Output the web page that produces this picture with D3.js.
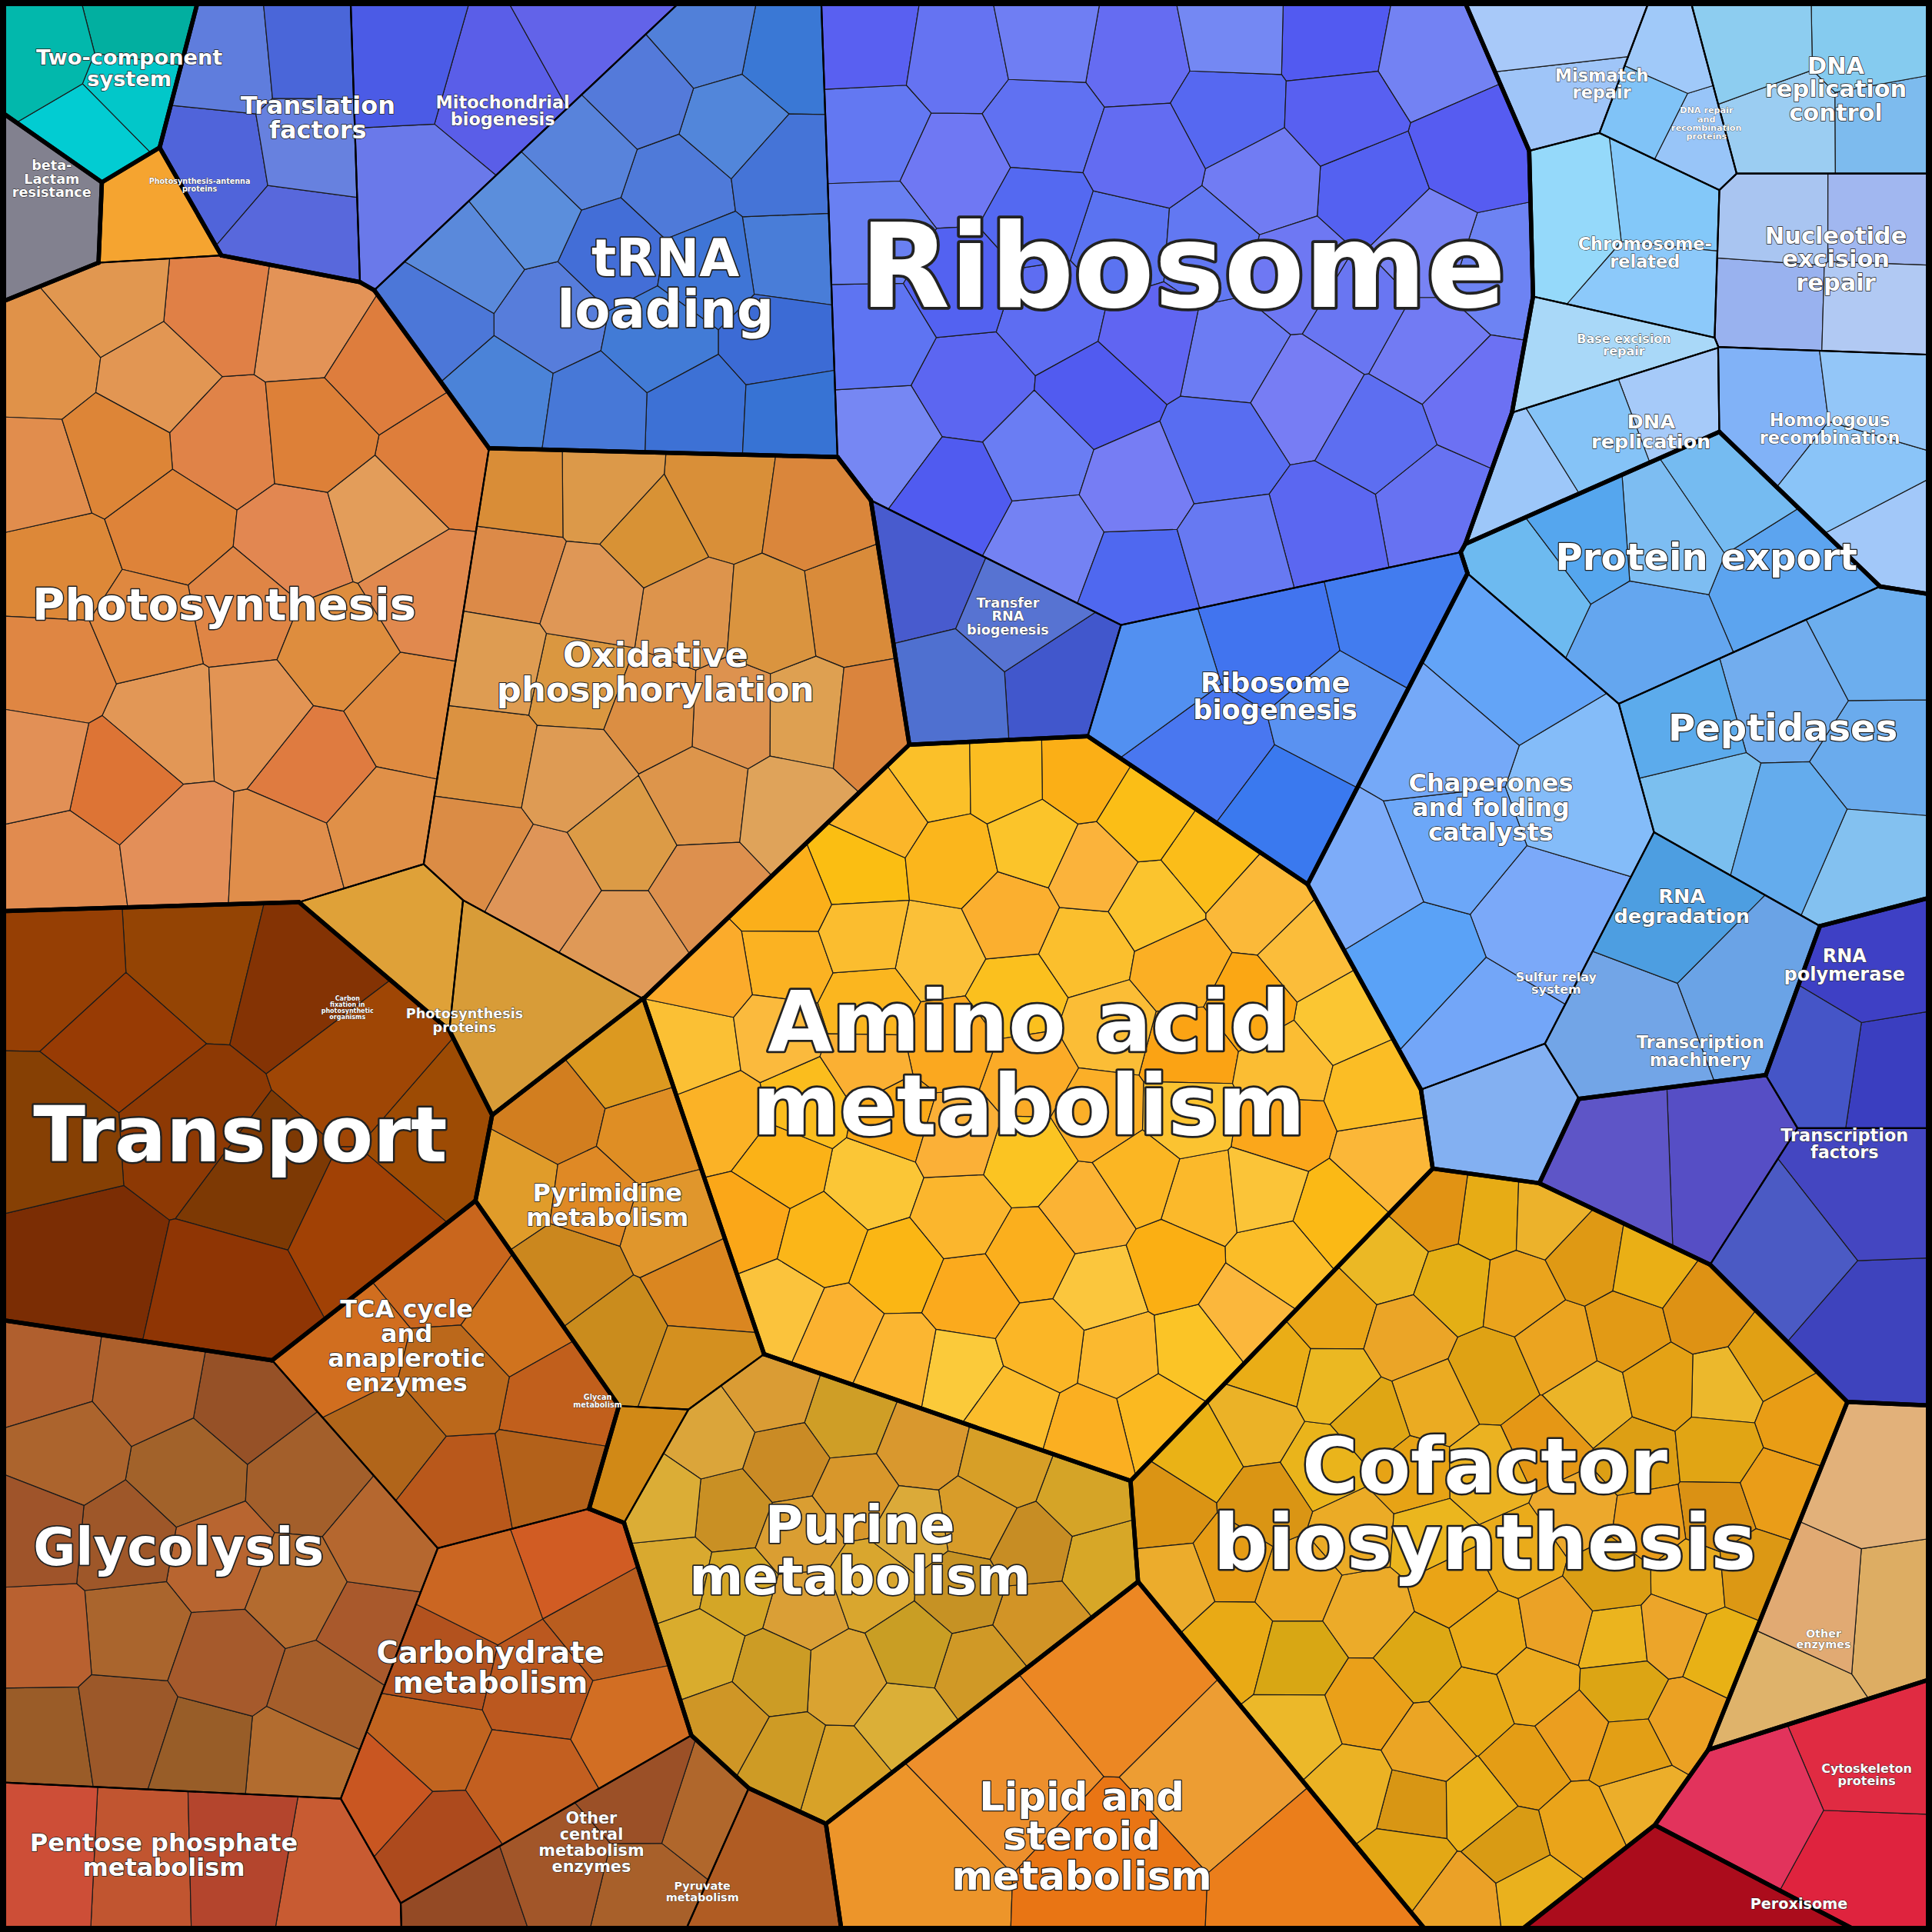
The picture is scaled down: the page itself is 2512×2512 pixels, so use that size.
<!DOCTYPE html>
<html><head><meta charset="utf-8">
<script src="https://cdn.jsdelivr.net/npm/d3@7"></script>
<style>body{margin:0;background:#fff}</style></head>
<body><svg id="c" width="2512" height="2512"></svg>
<script>
// ---------- DATA ----------
const categories = ["Two-component\nsystem","beta-\nLactam\nresistance","Photosynthesis-antenna\nproteins","Translation\nfactors","Mitochondrial\nbiogenesis","tRNA\nloading","Ribosome","Transfer\nRNA\nbiogenesis","Ribosome\nbiogenesis",
"Mismatch\nrepair","DNA repair\nand\nrecombination\nproteins","DNA\nreplication\ncontrol","Chromosome-\nrelated","Nucleotide\nexcision\nrepair","Base excision\nrepair","DNA\nreplication","Homologous\nrecombination",
"Protein export","Peptidases","Chaperones\nand folding\ncatalysts","RNA\ndegradation","Sulfur relay\nsystem",
"RNA\npolymerase","Transcription\nmachinery","Transcription\nfactors",
"Amino acid\nmetabolism","Pyrimidine\nmetabolism","Glycan\nmetabolism","Purine\nmetabolism","Cofactor\nbiosynthesis","Lipid and\nsteroid\nmetabolism",
"Photosynthesis","Oxidative\nphosphorylation","Carbon\nfixation in\nphotosynthetic\norganisms","Photosynthesis\nproteins",
"Transport","TCA cycle\nand\nanaplerotic\nenzymes","Glycolysis","Carbohydrate\nmetabolism","Pentose phosphate\nmetabolism","Other\ncentral\nmetabolism\nenzymes","Pyruvate\nmetabolism",
"Other\nenzymes","Cytoskeleton\nproteins","Peroxisome"];
const groups = ["TC","BL","EN","GI","GI","GI","GI","GI","GI",
"DNA","DNA","DNA","DNA","DNA","DNA","DNA","DNA",
"PF","PF","PF","PF","PF","TR","TR","TR",
"AA","NU","NU","NU","CO","LI",
"EN","EN","EN","EN","TP","CC","CC","CC","CC","CC","CC","OE","CY","PX"];
const sizes = [18,9,6,30,33,100,255,25,45, 12,10,25,20,25,8,15,25, 40,50,70,30,10, 20,20,30, 260,45,4,100,230,80, 185,130,9,14, 120,45,110,55,35,25,10, 30,30,12];
const subcellCounts = [4,1,1,5,4,20,45,4,6, 2,3,4,3,4,1,3,4, 6,7,8,3,1, 3,2,3, 70,10,1,30,75,6, 30,25,1,1, 12,8,20,10,4,5,1, 4,3,1];
const colors = ["#02c4c0","#7a7a88","#f6a844","#5a70dc","#5c64e8","#4a7ad8","#6472f2","#5068d0","#4a80f0",
"#a0c8f8","#90c4f8","#8cc8f0","#94d2fa","#a0baf0","#a8daf8","#94c4f8","#90c0f8",
"#6ab0f0","#70b2ee","#70a8f8","#60a0e4","#70a8f0","#4850c8","#5c58c8","#4048c0",
"#fbb828","#dc9020","#e49018","#d8a028","#eaa818","#ec8c24",
"#e08a48","#dc9448","#e0a040","#d89838","#8c3c04","#c0661c","#a8602c","#c05c20","#c05030","#a05828","#a05020",
"#e0b070","#e02848","#a80c20"];
// ---------- LAYOUT (seed point / label pos in 1568 space, font size) ----------
const layout = [[105,55,17],[42,145,11],[162,150,6],[258,95,20],[408,90,14],[540,230,42],[960,215,95],[818,500,11],[1035,565,22],
[1300,68,14],[1385,100,7],[1490,72,19],[1335,205,14],[1490,210,19],[1318,280,10],[1340,350,16],[1485,348,14],
[1385,452,30],[1447,590,30],[1210,655,20],[1365,735,16],[1263,798,10],[1497,783,15],[1380,853,14],[1497,928,14],
[835,862,68],[493,978,20],[485,1137,6],[698,1258,42],[1205,1220,62],[878,1490,32],
[182,490,36],[532,545,28],[282,818,5],[377,828,11],[195,920,62],[330,1092,20],[145,1255,42],[398,1353,24],[133,1505,20],[480,1495,13],[570,1535,9],
[1480,1330,9],[1515,1440,10],[1460,1545,12]];

const W=2512, S=W/1568;
const box=[[0,0],[W,0],[W,W],[0,W]];
function clip(poly,a0,a1,b){
  const out=[]; const n=poly.length;
  for(let k=0;k<n;k++){const P=poly[k],Q=poly[(k+1)%n];
    const fp=a0*P[0]+a1*P[1]-b, fq=a0*Q[0]+a1*Q[1]-b;
    if(fp<=0) out.push(P);
    if((fp<0&&fq>0)||(fp>0&&fq<0)){const t=fp/(fp-fq);out.push([P[0]+t*(Q[0]-P[0]),P[1]+t*(Q[1]-P[1])]);}
  } return out;}
function cells(pts,w,base){
  return pts.map((p,i)=>{let poly=base.slice();
    for(let j=0;j<pts.length&&poly.length>2;j++){if(j===i)continue;const q=pts[j];
      poly=clip(poly,2*(q[0]-p[0]),2*(q[1]-p[1]),q[0]*q[0]+q[1]*q[1]-p[0]*p[0]-p[1]*p[1]-w[j]+w[i]);}
    return poly;});}
const area=p=>p.length>2?Math.abs(d3.polygonArea(p)):0;
const sites=layout.map(l=>[l[0]*S,l[1]*S]);
const tot=d3.sum(sizes); const targets=sizes.map(s=>s/tot*W*W);
let w=sites.map(()=>0), polys;
for(let it=0;it<600;it++){
  polys=cells(sites,w,box);
  const step=it<350?0.25:0.12;
  polys.forEach((p,i)=>{const a=area(p); w[i]+=step*(targets[i]-a);});
}
polys=cells(sites,w,box);
function owner(x,y){let best=-1,bd=Infinity;sites.forEach((p,i)=>{const d=(x-p[0])**2+(y-p[1])**2-w[i];if(d<bd){bd=d;best=i;}});return best;}
function halton(i,b){let f=1,r=0;while(i>0){f/=b;r+=f*(i%b);i=Math.floor(i/b);}return r;}

const svg=d3.select("#c");
const gSub=svg.append("g"), gCat=svg.append("g"), gGrp=svg.append("g"), gTxt=svg.append("g");
polys.forEach((poly,ci)=>{
  if(poly.length<3)return;
  const n=subcellCounts[ci];
  const [x0,x1]=d3.extent(poly,d=>d[0]),[y0,y1]=d3.extent(poly,d=>d[1]);
  let pts=[];let k=1+ci*7;
  while(pts.length<n&&k<100000){const x=x0+halton(k,2)*(x1-x0),y=y0+halton(k,3)*(y1-y0);k++;if(d3.polygonContains(poly,[x,y]))pts.push([x,y]);}
  const zw=pts.map(()=>0);let sc=cells(pts,zw,poly);
  for(let r=0;r<8;r++){pts=sc.map((c,i)=>c.length>2?d3.polygonCentroid(c):pts[i]);sc=cells(pts,zw,poly);}
  const base=d3.hsl(colors[ci]);
  sc.forEach((c,j)=>{if(c.length<3)return;const h=d3.hsl(base);const v=halton(j+3+ci,5)-0.5,u=halton(j+5,7)-0.5;
    h.l=Math.max(0,Math.min(1,h.l+v*0.09));h.h+=u*8;
    gSub.append("path").attr("d","M"+c.join("L")+"Z").attr("fill",h.formatHex()).attr("stroke","#1a1a1a").attr("stroke-width",1.2).attr("stroke-linejoin","round");});
  gCat.append("path").attr("d","M"+poly.join("L")+"Z").attr("fill","none").attr("stroke","#000").attr("stroke-width",2.2);
  for(let e=0;e<poly.length;e++){const P=poly[e],Q=poly[(e+1)%poly.length];
    const mx=(P[0]+Q[0])/2,my=(P[1]+Q[1])/2;const dx=Q[0]-P[0],dy=Q[1]-P[1],L=Math.hypot(dx,dy);if(L<0.5)continue;
    const c=d3.polygonCentroid(poly);let nx=dy/L,ny=-dx/L;if(nx*(mx-c[0])+ny*(my-c[1])<0){nx=-nx;ny=-ny;}
    const ox=mx+nx*3,oy=my+ny*3;if(ox<0||oy<0||ox>W||oy>W)continue;
    const o=owner(ox,oy);if(o>=0&&groups[o]!==groups[ci])
      gGrp.append("line").attr("x1",P[0]).attr("y1",P[1]).attr("x2",Q[0]).attr("y2",Q[1]).attr("stroke","#000").attr("stroke-width",5.5).attr("stroke-linecap","round");}
});
svg.append("rect").attr("x",0).attr("y",0).attr("width",W).attr("height",W).attr("fill","none").attr("stroke","#000").attr("stroke-width",16);
categories.forEach((name,i)=>{
  const lines=name.split("\n");const fs=layout[i][2]*S;const lh=fs*1.0;
  const t=gTxt.append("text").attr("x",sites[i][0]).attr("y",sites[i][1]-(lines.length-1)*lh/2+fs*0.36)
    .attr("text-anchor","middle").attr("font-family","DejaVu Sans").attr("font-weight","bold").attr("font-size",fs)
    .attr("fill","#fff").attr("stroke","#222").attr("stroke-width",Math.max(0.6,fs*0.05)).attr("paint-order","stroke").attr("stroke-linejoin","round");
  lines.forEach((l,j)=>t.append("tspan").attr("x",sites[i][0]).attr("dy",j?lh:0).text(l));
});
</script></body></html>
